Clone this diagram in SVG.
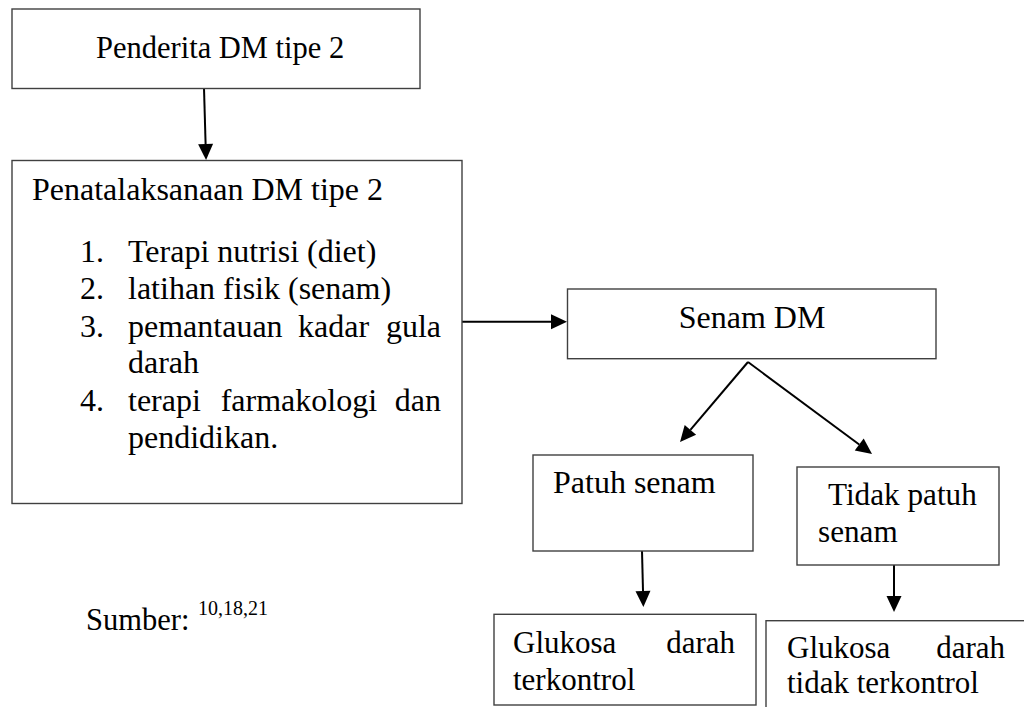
<svg xmlns="http://www.w3.org/2000/svg" width="1024" height="707" viewBox="0 0 1024 707">
<style>
  .box { fill: #ffffff; stroke: #404040; stroke-width: 1.4; }
  .t { font-family: "Liberation Serif", "Times New Roman", serif; font-size: 32px; fill: #000000; }
  .sup { font-family: "Liberation Serif", "Times New Roman", serif; font-size: 20px; fill: #000000; }
  .conn { stroke: #000000; stroke-width: 2; fill: none; marker-end: url(#ah); }
</style>
<defs>
  <marker id="ah" markerUnits="userSpaceOnUse" markerWidth="16" markerHeight="16" refX="0" refY="8" orient="auto" overflow="visible">
    <path d="M0,0.5 L16,8 L0,15.5 z" fill="#000000"/>
  </marker>
</defs>
<rect width="1024" height="707" fill="#ffffff"/>

<g id="connectors">
  <line class="conn" x1="204" y1="88" x2="205.6" y2="144"/>
  <line class="conn" x1="462" y1="321.7" x2="551" y2="321.7"/>
  <line class="conn" x1="748" y1="362" x2="690.4" y2="429.8"/>
  <line class="conn" x1="748" y1="362" x2="859.2" y2="444.5"/>
  <line class="conn" x1="642" y1="551" x2="643" y2="591"/>
  <line class="conn" x1="894" y1="562" x2="894" y2="596"/>
</g>

<g id="node-penderita">
  <rect class="box" x="12" y="9" width="408" height="79.5"/>
  <text class="t" x="96" y="58.3" style="font-size:30.5px">Penderita DM tipe 2</text>
</g>

<g id="node-penatalaksanaan">
  <rect class="box" x="12" y="160.5" width="450" height="343"/>
  <text class="t" x="32" y="200">Penatalaksanaan DM tipe 2</text>
  <text class="t" x="80" y="261.7">1.</text>
  <text class="t" x="128" y="261.7">Terapi nutrisi (diet)</text>
  <text class="t" x="80" y="299.3">2.</text>
  <text class="t" x="128" y="299.3">latihan fisik (senam)</text>
  <text class="t" x="80" y="336.7">3.</text>
  <text class="t" x="128" y="336.7">pemantauan</text>
  <text class="t" x="298" y="336.7">kadar</text>
  <text class="t" x="441" y="336.7" text-anchor="end">gula</text>
  <text class="t" x="128" y="373.3">darah</text>
  <text class="t" x="80" y="410.7">4.</text>
  <text class="t" x="128" y="410.7">terapi</text>
  <text class="t" x="220.7" y="410.7">farmakologi</text>
  <text class="t" x="441" y="410.7" text-anchor="end">dan</text>
  <text class="t" x="128" y="448.3">pendidikan.</text>
</g>

<g id="node-senam">
  <rect class="box" x="567.5" y="289" width="368.5" height="69.7"/>
  <text class="t" x="752" y="327.7" text-anchor="middle">Senam DM</text>
</g>

<g id="node-patuh">
  <rect class="box" x="533" y="455" width="220" height="96"/>
  <text class="t" x="553" y="493.3">Patuh senam</text>
</g>

<g id="node-tidak-patuh">
  <rect class="box" x="797" y="467" width="202" height="98"/>
  <text class="t" x="828" y="505" style="font-size:31.2px">Tidak patuh</text>
  <text class="t" x="818" y="541.7" style="font-size:31.2px">senam</text>
</g>

<g id="node-glukosa-terkontrol">
  <rect class="box" x="494" y="614.3" width="262" height="90.7"/>
  <text class="t" x="513" y="653" style="font-size:31px">Glukosa</text>
  <text class="t" x="735" y="653" text-anchor="end" style="font-size:31px">darah</text>
  <text class="t" x="513" y="690" style="font-size:31px">terkontrol</text>
</g>

<g id="node-glukosa-tidak-terkontrol">
  <rect class="box" x="766" y="620.7" width="270" height="100"/>
  <text class="t" x="787" y="658" style="font-size:31px">Glukosa</text>
  <text class="t" x="1005" y="658" text-anchor="end" style="font-size:31px">darah</text>
  <text class="t" x="787" y="693" style="font-size:31px">tidak terkontrol</text>
</g>

<g id="source">
  <text class="t" x="86" y="630" style="font-size:30.5px">Sumber:</text>
  <text class="sup" x="198" y="615">10,18,21</text>
</g>
</svg>
